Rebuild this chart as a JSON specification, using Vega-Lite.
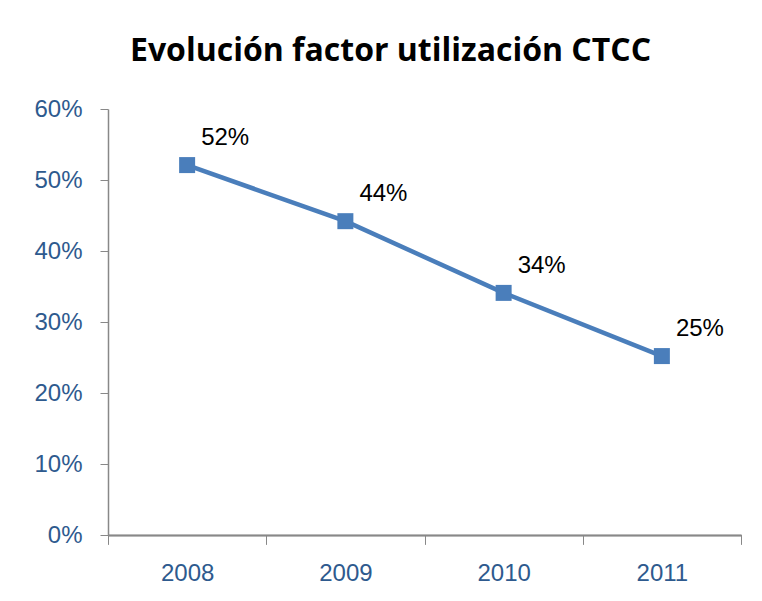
{
  "$schema": "https://vega.github.io/schema/vega-lite/v6.json",
  "width": 633,
  "height": 426,
  "autosize": "none",
  "padding": {"left": 108, "top": 109, "right": 21, "bottom": 66},
  "background": "white",
  "config": {"view": {"stroke": null}, "font": "Liberation Sans"},
  "title": {
    "text": "Evolución factor utilización CTCC",
    "font": "Open Sans",
    "fontSize": 32,
    "fontWeight": "bold",
    "color": "#000000",
    "anchor": "middle",
    "dx": -34,
    "offset": 29
  },
  "data": {"values": [
    {"year": 2008, "value": 0.521},
    {"year": 2009, "value": 0.442},
    {"year": 2010, "value": 0.341},
    {"year": 2011, "value": 0.252}
  ]},
  "encoding": {
    "x": {
      "field": "year", "type": "quantitative",
      "scale": {"domain": [2007.5, 2011.5], "nice": false, "zero": false},
      "axis": {
        "orient": "bottom",
        "values": [2007.5, 2008.5, 2009.5, 2010.5, 2011.5],
        "labels": false, "title": null, "grid": false,
        "domainColor": "#888888", "tickColor": "#888888", "tickSize": 9, "domainWidth": 1.5
      }
    },
    "y": {
      "field": "value", "type": "quantitative",
      "scale": {"domain": [0, 0.6], "nice": false},
      "axis": {
        "values": [0, 0.1, 0.2, 0.3, 0.4, 0.5, 0.6],
        "format": ".0%", "title": null, "grid": false,
        "domainColor": "#888888", "tickColor": "#888888", "tickSize": 8, "domainWidth": 1.5,
        "labelColor": "#2E5A8E", "labelFontSize": 24, "labelPadding": 18, "labelFont": "Liberation Sans"
      }
    }
  },
  "layer": [
    {
      "mark": {"type": "line", "color": "#4A7EBB", "strokeWidth": 4.5}
    },
    {
      "mark": {"type": "point", "shape": "square", "filled": true, "size": 256, "color": "#4A7EBB", "opacity": 1}
    },
    {
      "mark": {"type": "text", "align": "left", "baseline": "middle", "dx": 14, "dy": -27, "fontSize": 24, "color": "#000000", "font": "Liberation Sans"},
      "encoding": {"text": {"field": "value", "type": "quantitative", "format": ".0%"}}
    },
    {
      "mark": {"type": "point", "opacity": 0},
      "encoding": {
        "x": {
          "field": "year", "type": "quantitative",
          "axis": {
            "orient": "bottom",
            "values": [2008, 2009, 2010, 2011], "format": "d",
            "ticks": false, "domain": false, "title": null, "grid": false,
            "labelColor": "#2E5A8E", "labelFontSize": 24, "labelPadding": 26, "labelFont": "Liberation Sans"
          }
        }
      }
    }
  ],
  "resolve": {"axis": {"x": "independent"}}
}
